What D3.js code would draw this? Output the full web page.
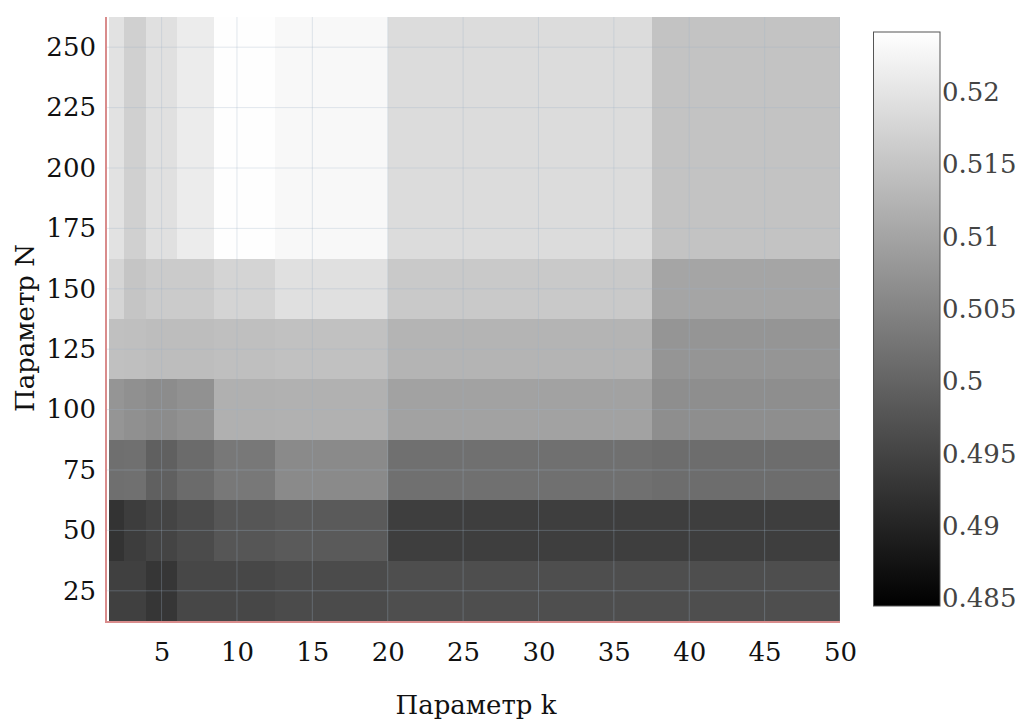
<!DOCTYPE html>
<html>
<head>
<meta charset="utf-8">
<script src="https://cdn.jsdelivr.net/npm/d3@7"></script>
<style>
  body { margin: 0; background: #fff; }
  text { font-family: "DejaVu Serif", serif; }
</style>
</head>
<body>
<script>
var width = 1025, height = 727;

//Grid of the heatmap: k along x, N along y
var kValues = [2, 3, 5, 7, 10, 15, 25, 50];
var nValues = [25, 50, 75, 100, 125, 150, 175, 200, 225, 250];

//One row per N value (same order as nValues)
var z25  = [0.4944, 0.4944, 0.4929, 0.4955, 0.4955, 0.4961, 0.4966, 0.4966];
var z50  = [0.4924, 0.4940, 0.4951, 0.4961, 0.4979, 0.4985, 0.4941, 0.4941];
var z75  = [0.5017, 0.5019, 0.4994, 0.5011, 0.5031, 0.5059, 0.5019, 0.5014];
var z100 = [0.5077, 0.5069, 0.5063, 0.5070, 0.5119, 0.5120, 0.5097, 0.5066];
var z125 = [0.5143, 0.5142, 0.5139, 0.5139, 0.5142, 0.5145, 0.5125, 0.5077];
var z150 = [0.5176, 0.5151, 0.5161, 0.5161, 0.5175, 0.5193, 0.5157, 0.5101];
var z175 = [0.5196, 0.5168, 0.5193, 0.5212, 0.5240, 0.5231, 0.5187, 0.5148];
var z200 = [0.5196, 0.5168, 0.5193, 0.5212, 0.5240, 0.5231, 0.5187, 0.5148];
var z225 = [0.5196, 0.5168, 0.5193, 0.5212, 0.5240, 0.5231, 0.5187, 0.5148];
var z250 = [0.5196, 0.5168, 0.5193, 0.5212, 0.5240, 0.5231, 0.5187, 0.5148];
var zRows = [z25, z50, z75, z100, z125, z150, z175, z200, z225, z250];

var xTicks = [5, 10, 15, 20, 25, 30, 35, 40, 45, 50];
var yTicks = [25, 50, 75, 100, 125, 150, 175, 200, 225, 250];
var cbTicks = [0.485, 0.49, 0.495, 0.5, 0.505, 0.51, 0.515, 0.52];
var zRange = [0.48447, 0.52415];

var fs = 26; //font size used for all text

var x = d3.scaleLinear().domain([1.38, 50]).range([107, 840]);
var y = d3.scaleLinear().domain([12.5, 262.5]).range([621, 17]);
var color = d3.scaleLinear().domain(zRange).range(["#000000", "#ffffff"]);

var svg = d3.select("body").append("svg").attr("width", width).attr("height", height);

svg.append("defs").append("clipPath").attr("id", "plotclip")
  .append("rect")
  .attr("x", x.range()[0]).attr("y", y.range()[1])
  .attr("width", x.range()[1] - x.range()[0])
  .attr("height", y.range()[0] - y.range()[1]);

//cell edges = midpoints between neighbouring grid values
function edges(vals) {
  var e = [vals[0] - (vals[1] - vals[0]) / 2];
  for (var i = 1; i < vals.length; i++) e.push((vals[i - 1] + vals[i]) / 2);
  e.push(vals[vals.length - 1] + (vals[vals.length - 1] - vals[vals.length - 2]) / 2);
  return e;
}
var kEdges = edges(kValues), nEdges = edges(nValues);

var cells = [];
zRows.forEach(function(row, j) {
  row.forEach(function(v, i) {
    cells.push({i: i, j: j, v: v});
  });
});

var heat = svg.append("g").attr("clip-path", "url(#plotclip)");
heat.selectAll("rect").data(cells).enter().append("rect")
  .attr("x", function(d) { return x(kEdges[d.i]); })
  .attr("width", function(d) { return x(kEdges[d.i + 1]) - x(kEdges[d.i]); })
  .attr("y", function(d) { return y(nEdges[d.j + 1]); })
  .attr("height", function(d) { return y(nEdges[d.j]) - y(nEdges[d.j + 1]); })
  .attr("fill", function(d) { return color(d.v); })
  .attr("shape-rendering", "crispEdges");

//faint grid over the cells
var grid = svg.append("g").attr("clip-path", "url(#plotclip)")
  .attr("stroke", "#9fb3c8").attr("stroke-opacity", 0.3).attr("stroke-width", 1);
grid.selectAll(".gx").data(xTicks).enter().append("line")
  .attr("x1", function(d) { return x(d); }).attr("x2", function(d) { return x(d); })
  .attr("y1", y.range()[0]).attr("y2", y.range()[1]);
grid.selectAll(".gy").data(yTicks).enter().append("line")
  .attr("y1", function(d) { return y(d); }).attr("y2", function(d) { return y(d); })
  .attr("x1", x.range()[0]).attr("x2", x.range()[1]);

//axes (labels only, no tick marks)
var xAxis = svg.append("g").attr("transform", "translate(0," + 621 + ")")
  .call(d3.axisBottom(x).tickValues(xTicks).tickSize(0).tickPadding(22));
var yAxis = svg.append("g").attr("transform", "translate(" + 106 + ",0)")
  .call(d3.axisLeft(y).tickValues(yTicks).tickSize(0).tickPadding(10));
[xAxis, yAxis].forEach(function(a) {
  a.select(".domain").remove();
  a.selectAll("text").attr("font-family", "DejaVu Serif").attr("font-size", fs).attr("fill", "#111");
});

svg.append("line").attr("x1", 106).attr("x2", 106).attr("y1", 17).attr("y2", 622)
  .attr("stroke", "#d98c8c").attr("stroke-width", 2);
svg.append("line").attr("x1", 105).attr("x2", 840).attr("y1", 622).attr("y2", 622)
  .attr("stroke", "#d98c8c").attr("stroke-width", 2);

//axis titles
svg.append("text").attr("x", 476).attr("y", 714).attr("text-anchor", "middle")
  .attr("font-size", fs).attr("fill", "#111").text("Параметр k");
svg.append("text").attr("transform", "translate(34,328) rotate(-90)")
  .attr("text-anchor", "middle").attr("font-size", fs).attr("fill", "#111").text("Параметр N");

//colorbar
var cb = d3.scaleLinear().domain(zRange).range([606, 32]);
var grad = svg.select("defs").append("linearGradient").attr("id", "cbgrad")
  .attr("x1", 0).attr("y1", 1).attr("x2", 0).attr("y2", 0);
grad.append("stop").attr("offset", 0).attr("stop-color", color(zRange[0]));
grad.append("stop").attr("offset", 1).attr("stop-color", color(zRange[1]));

svg.append("rect").attr("x", 873.5).attr("y", cb.range()[1])
  .attr("width", 66.5).attr("height", cb.range()[0] - cb.range()[1])
  .attr("fill", "url(#cbgrad)").attr("stroke", "#555").attr("stroke-width", 1);

svg.append("g").selectAll("text").data(cbTicks).enter().append("text")
  .attr("x", 942).attr("y", function(d) { return cb(d); }).attr("dy", "0.35em")
  .attr("font-size", fs).attr("fill", "#444")
  .text(function(d) { return d3.format("")(d); });
</script>
</body>
</html>
